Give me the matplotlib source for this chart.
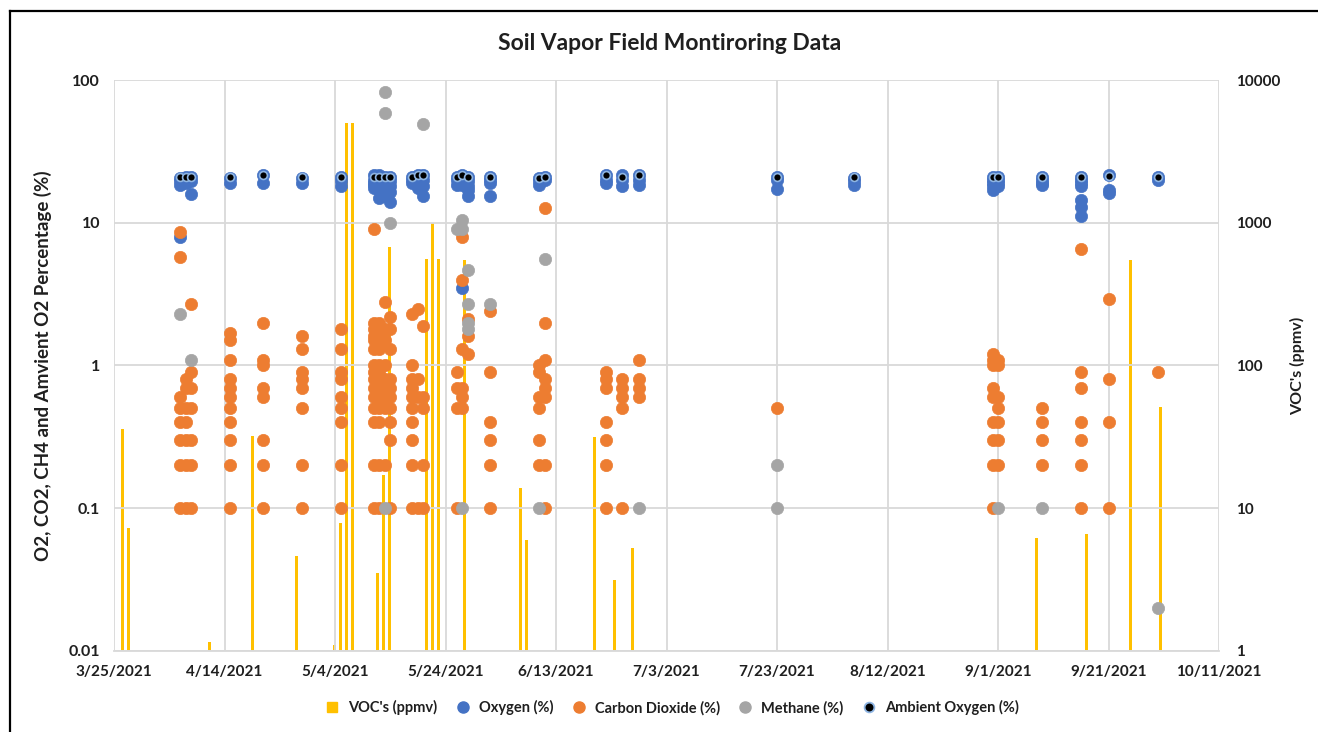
import matplotlib

matplotlib.use("Agg")
import matplotlib.pyplot as plt
import pandas as pd
from matplotlib.lines import Line2D

plt.rcParams["font.family"] = ["Lato", "DejaVu Sans"]

TITLE = "Soil Vapor Field Montiroring Data"
LEFT_LABEL = "O2, CO2, CH4 and Amvient O2 Percentage (%)"
RIGHT_LABEL = "VOC's (ppmv)"

x_ticks = ["2021-03-25", "2021-04-14", "2021-05-04", "2021-05-24", "2021-06-13", "2021-07-03",
           "2021-07-23", "2021-08-12", "2021-09-01", "2021-09-21", "2021-10-11"]
left_ticks = [0.01, 0.1, 1, 10, 100]
left_tick_labels = ["0.01", "0.1", "1", "10", "100"]
right_ticks = [1, 10, 100, 1000, 10000]
right_tick_labels = ["1", "10", "100", "1000", "10000"]

# VOC readings (ppmv), secondary axis
voc = [
    ("2021-03-26 12:00", 36), ("2021-03-27 14:00", 7.3), ("2021-04-11 08:00", 1.16),
    ("2021-04-19", 32), ("2021-04-27", 4.6), ("2021-05-03 22:00", 1.1), ("2021-05-05", 7.9),
    ("2021-05-06", 5000), ("2021-05-07 05:00", 5000), ("2021-05-11 17:00", 3.5),
    ("2021-05-12 19:00", 17), ("2021-05-13 22:00", 680), ("2021-05-20 14:00", 555),
    ("2021-05-21 14:00", 1000), ("2021-05-22 17:00", 560), ("2021-05-27 12:00", 548),
    ("2021-06-06 14:00", 13.9), ("2021-06-07 17:00", 6.0), ("2021-06-20", 31.6),
    ("2021-06-23 12:00", 3.15), ("2021-06-26 19:00", 5.3), ("2021-09-08", 6.2),
    ("2021-09-17", 6.6), ("2021-09-25", 548), ("2021-09-30 10:00", 51.5),
]

oxygen = [
    ("2021-04-06", 20.5), ("2021-04-06", 19.5), ("2021-04-06", 18.5), ("2021-04-06", 7.9),
    ("2021-04-07", 21), ("2021-04-07", 20), ("2021-04-07", 19),
    ("2021-04-08", 21), ("2021-04-08", 19.5), ("2021-04-08", 16),
    ("2021-04-15", 20.5), ("2021-04-15", 19),
    ("2021-04-21", 21.5), ("2021-04-21", 19),
    ("2021-04-28", 20.5), ("2021-04-28", 19),
    ("2021-05-05", 21), ("2021-05-05", 19.5), ("2021-05-05", 18),
    ("2021-05-11", 21.5), ("2021-05-11", 20), ("2021-05-11", 19), ("2021-05-11", 18.5), ("2021-05-11", 17.5),
    ("2021-05-12", 21.5), ("2021-05-12", 20), ("2021-05-12", 19), ("2021-05-12", 17), ("2021-05-12", 15),
    ("2021-05-13", 21), ("2021-05-13", 20), ("2021-05-13", 18.5), ("2021-05-13", 17.5), ("2021-05-13", 15.5),
    ("2021-05-14", 21), ("2021-05-14", 19.5), ("2021-05-14", 18), ("2021-05-14", 16.5), ("2021-05-14", 14),
    ("2021-05-18", 21), ("2021-05-18", 20), ("2021-05-18", 19),
    ("2021-05-19", 21.5), ("2021-05-19", 20), ("2021-05-19", 18.5), ("2021-05-19", 17.5),
    ("2021-05-20", 21.5), ("2021-05-20", 20), ("2021-05-20", 18), ("2021-05-20", 15.5),
    ("2021-05-26", 21), ("2021-05-26", 20), ("2021-05-26", 18.5),
    ("2021-05-27", 21.5), ("2021-05-27", 20), ("2021-05-27", 18.5), ("2021-05-27", 3.5),
    ("2021-05-28", 21), ("2021-05-28", 19.5), ("2021-05-28", 18), ("2021-05-28", 17), ("2021-05-28", 15.5),
    ("2021-06-01", 21), ("2021-06-01", 20), ("2021-06-01", 19), ("2021-06-01", 15.5),
    ("2021-06-10", 20.5), ("2021-06-10", 19.5), ("2021-06-10", 18.5),
    ("2021-06-11", 21), ("2021-06-11", 20),
    ("2021-06-22", 21.5), ("2021-06-22", 20), ("2021-06-22", 19),
    ("2021-06-25", 21.5), ("2021-06-25", 20), ("2021-06-25", 18),
    ("2021-06-28", 21.5), ("2021-06-28", 20), ("2021-06-28", 18.5),
    ("2021-07-23", 21), ("2021-07-23", 20), ("2021-07-23", 17.2),
    ("2021-08-06", 20.5), ("2021-08-06", 19.5), ("2021-08-06", 18.5),
    ("2021-08-31", 21), ("2021-08-31", 20), ("2021-08-31", 19), ("2021-08-31", 18), ("2021-08-31", 17),
    ("2021-09-01", 21), ("2021-09-01", 20), ("2021-09-01", 19), ("2021-09-01", 18),
    ("2021-09-09", 21), ("2021-09-09", 20), ("2021-09-09", 19), ("2021-09-09", 18.5),
    ("2021-09-16", 21), ("2021-09-16", 20), ("2021-09-16", 19), ("2021-09-16", 18),
    ("2021-09-16", 14.4), ("2021-09-16", 12.8), ("2021-09-16", 11.1),
    ("2021-09-21", 21.5), ("2021-09-21", 17), ("2021-09-21", 16.2),
    ("2021-09-30", 21), ("2021-09-30", 20),
]

carbon_dioxide = [
    ("2021-04-06", 8.6), ("2021-04-06", 5.8), ("2021-04-06", 0.6), ("2021-04-06", 0.5),
    ("2021-04-06", 0.4), ("2021-04-06", 0.3), ("2021-04-06", 0.2), ("2021-04-06", 0.1),
    ("2021-04-07", 0.8), ("2021-04-07", 0.7), ("2021-04-07", 0.5), ("2021-04-07", 0.4),
    ("2021-04-07", 0.3), ("2021-04-07", 0.2), ("2021-04-07", 0.1),
    ("2021-04-08", 2.7), ("2021-04-08", 0.9), ("2021-04-08", 0.7), ("2021-04-08", 0.5),
    ("2021-04-08", 0.3), ("2021-04-08", 0.2), ("2021-04-08", 0.1),
    ("2021-04-15", 1.7), ("2021-04-15", 1.5), ("2021-04-15", 1.1), ("2021-04-15", 0.8),
    ("2021-04-15", 0.7), ("2021-04-15", 0.6), ("2021-04-15", 0.5), ("2021-04-15", 0.4),
    ("2021-04-15", 0.3), ("2021-04-15", 0.2), ("2021-04-15", 0.1),
    ("2021-04-21", 2.0), ("2021-04-21", 1.1), ("2021-04-21", 1.0), ("2021-04-21", 0.7),
    ("2021-04-21", 0.6), ("2021-04-21", 0.3), ("2021-04-21", 0.2), ("2021-04-21", 0.1),
    ("2021-04-28", 1.6), ("2021-04-28", 1.3), ("2021-04-28", 0.9), ("2021-04-28", 0.8),
    ("2021-04-28", 0.7), ("2021-04-28", 0.5), ("2021-04-28", 0.2), ("2021-04-28", 0.1),
    ("2021-05-05", 1.8), ("2021-05-05", 1.3), ("2021-05-05", 0.9), ("2021-05-05", 0.8),
    ("2021-05-05", 0.6), ("2021-05-05", 0.5), ("2021-05-05", 0.4), ("2021-05-05", 0.2),
    ("2021-05-05", 0.1),
    ("2021-05-11", 9.0), ("2021-05-11", 2.0), ("2021-05-11", 1.8), ("2021-05-11", 1.6),
    ("2021-05-11", 1.5), ("2021-05-11", 1.3), ("2021-05-11", 1.0), ("2021-05-11", 0.9),
    ("2021-05-11", 0.8), ("2021-05-11", 0.7), ("2021-05-11", 0.6), ("2021-05-11", 0.5),
    ("2021-05-11", 0.4), ("2021-05-11", 0.2), ("2021-05-11", 0.1),
    ("2021-05-12", 2.0), ("2021-05-12", 1.6), ("2021-05-12", 1.4), ("2021-05-12", 1.3),
    ("2021-05-12", 1.0), ("2021-05-12", 0.9), ("2021-05-12", 0.8), ("2021-05-12", 0.7),
    ("2021-05-12", 0.6), ("2021-05-12", 0.5), ("2021-05-12", 0.4), ("2021-05-12", 0.2),
    ("2021-05-12", 0.1),
    ("2021-05-13", 2.8), ("2021-05-13", 1.8), ("2021-05-13", 1.5), ("2021-05-13", 1.0),
    ("2021-05-13", 0.8), ("2021-05-13", 0.7), ("2021-05-13", 0.6), ("2021-05-13", 0.5),
    ("2021-05-13", 0.2),
    ("2021-05-14", 2.2), ("2021-05-14", 1.8), ("2021-05-14", 1.3), ("2021-05-14", 0.8),
    ("2021-05-14", 0.7), ("2021-05-14", 0.6), ("2021-05-14", 0.5), ("2021-05-14", 0.4),
    ("2021-05-14", 0.3), ("2021-05-14", 0.1),
    ("2021-05-18", 2.3), ("2021-05-18", 1.0), ("2021-05-18", 0.8), ("2021-05-18", 0.7),
    ("2021-05-18", 0.6), ("2021-05-18", 0.5), ("2021-05-18", 0.4), ("2021-05-18", 0.3),
    ("2021-05-18", 0.2), ("2021-05-18", 0.1),
    ("2021-05-19", 2.5), ("2021-05-19", 0.8), ("2021-05-19", 0.6), ("2021-05-19", 0.1),
    ("2021-05-20", 1.9), ("2021-05-20", 0.6), ("2021-05-20", 0.5), ("2021-05-20", 0.2),
    ("2021-05-20", 0.1),
    ("2021-05-26", 0.9), ("2021-05-26", 0.7), ("2021-05-26", 0.5), ("2021-05-26", 0.1),
    ("2021-05-27", 8.0), ("2021-05-27", 4.0), ("2021-05-27", 1.3), ("2021-05-27", 0.7),
    ("2021-05-27", 0.6), ("2021-05-27", 0.5),
    ("2021-05-28", 2.1), ("2021-05-28", 1.6), ("2021-05-28", 1.2),
    ("2021-06-01", 2.4), ("2021-06-01", 0.9), ("2021-06-01", 0.4), ("2021-06-01", 0.3),
    ("2021-06-01", 0.2), ("2021-06-01", 0.1),
    ("2021-06-10", 1.0), ("2021-06-10", 0.9), ("2021-06-10", 0.6), ("2021-06-10", 0.5),
    ("2021-06-10", 0.3), ("2021-06-10", 0.2),
    ("2021-06-11", 12.7), ("2021-06-11", 2.0), ("2021-06-11", 1.1), ("2021-06-11", 0.8),
    ("2021-06-11", 0.7), ("2021-06-11", 0.6), ("2021-06-11", 0.2), ("2021-06-11", 0.1),
    ("2021-06-22", 0.9), ("2021-06-22", 0.8), ("2021-06-22", 0.7), ("2021-06-22", 0.4),
    ("2021-06-22", 0.3), ("2021-06-22", 0.2), ("2021-06-22", 0.1),
    ("2021-06-25", 0.8), ("2021-06-25", 0.7), ("2021-06-25", 0.6), ("2021-06-25", 0.5),
    ("2021-06-25", 0.1),
    ("2021-06-28", 1.1), ("2021-06-28", 0.8), ("2021-06-28", 0.7), ("2021-06-28", 0.6),
    ("2021-07-23", 0.5),
    ("2021-08-31", 1.2), ("2021-08-31", 1.1), ("2021-08-31", 1.0), ("2021-08-31", 0.7),
    ("2021-08-31", 0.6), ("2021-08-31", 0.4), ("2021-08-31", 0.3), ("2021-08-31", 0.2),
    ("2021-08-31", 0.1),
    ("2021-09-01", 1.1), ("2021-09-01", 1.0), ("2021-09-01", 0.6), ("2021-09-01", 0.5),
    ("2021-09-01", 0.4), ("2021-09-01", 0.3), ("2021-09-01", 0.2),
    ("2021-09-09", 0.5), ("2021-09-09", 0.4), ("2021-09-09", 0.3), ("2021-09-09", 0.2),
    ("2021-09-16", 6.6), ("2021-09-16", 0.9), ("2021-09-16", 0.7), ("2021-09-16", 0.4),
    ("2021-09-16", 0.3), ("2021-09-16", 0.2), ("2021-09-16", 0.1),
    ("2021-09-21", 2.9), ("2021-09-21", 0.8), ("2021-09-21", 0.4), ("2021-09-21", 0.1),
    ("2021-09-30", 0.9),
]

methane = [
    ("2021-04-06", 2.3), ("2021-04-08", 1.1),
    ("2021-05-13", 82), ("2021-05-13", 59), ("2021-05-13", 0.1), ("2021-05-14", 10),
    ("2021-05-20", 49),
    ("2021-05-26", 9), ("2021-05-27", 10.5), ("2021-05-27", 9), ("2021-05-27", 0.1),
    ("2021-05-28", 4.7), ("2021-05-28", 2.7), ("2021-05-28", 2.0), ("2021-05-28", 1.8),
    ("2021-06-01", 2.7), ("2021-06-10", 0.1), ("2021-06-11", 5.6), ("2021-06-28", 0.1),
    ("2021-07-23", 0.2), ("2021-07-23", 0.1), ("2021-09-01", 0.1), ("2021-09-09", 0.1),
    ("2021-09-30", 0.02),
]

ambient_oxygen = [
    ("2021-04-06", 20.9), ("2021-04-07", 20.9), ("2021-04-08", 20.9), ("2021-04-15", 20.9),
    ("2021-04-21", 21.5), ("2021-04-28", 20.9), ("2021-05-05", 20.9), ("2021-05-11", 20.9),
    ("2021-05-12", 20.9), ("2021-05-13", 20.9), ("2021-05-14", 20.9), ("2021-05-18", 20.9),
    ("2021-05-19", 21.5), ("2021-05-20", 21.5), ("2021-05-26", 20.9), ("2021-05-27", 21.5),
    ("2021-05-28", 20.9), ("2021-06-01", 20.9), ("2021-06-10", 20.5), ("2021-06-11", 20.9),
    ("2021-06-22", 21.5), ("2021-06-25", 20.9), ("2021-06-28", 21.5), ("2021-07-23", 20.9),
    ("2021-08-06", 20.9), ("2021-08-31", 20.9), ("2021-09-01", 20.9), ("2021-09-09", 20.9),
    ("2021-09-16", 20.9), ("2021-09-21", 21.3), ("2021-09-30", 20.9),
]

C_VOC = "#FFC000"
C_O2 = "#4472C4"
C_CO2 = "#ED7D31"
C_CH4 = "#A5A5A5"
C_GRID = "#D9D9D9"
C_TEXT = "#1F1F1F"


def split(pairs):
    d = pd.to_datetime([p[0] for p in pairs], format="ISO8601")
    v = [p[1] for p in pairs]
    return d, v


def main() -> None:
    fig = plt.figure(figsize=(13.18, 7.32), dpi=100)
    ax = fig.add_axes([0.0865, 0.1107, 0.8385, 0.78])
    ax2 = ax.twinx()
    # markers above the VOC bars
    ax.set_zorder(ax2.get_zorder() + 1)
    ax.patch.set_visible(False)

    vd, vv = split(voc)
    ax2.bar(vd, [v - 1 for v in vv], bottom=1, width=0.55, color=C_VOC, zorder=2)
    ax2.set_yscale("log")
    ax2.set_ylim(1, 10000)

    ms = 78
    for series, col in [(oxygen, C_O2), (carbon_dioxide, C_CO2), (methane, C_CH4)]:
        d, v = split(series)
        ax.scatter(d, v, s=ms, color=col, edgecolors=col, linewidths=0.5, zorder=3)
    d, v = split(ambient_oxygen)
    ax.scatter(d, v, s=32, color="black", edgecolors="#8DB4E2", linewidths=1.2, zorder=4)

    ax.set_yscale("log")
    ax.set_ylim(0.01, 100)
    xt = pd.to_datetime(x_ticks)
    ax.set_xlim(xt[0], xt[-1])
    ax.set_xticks(xt)
    ax.set_xticklabels([f"{t.month}/{t.day}/{t.year}" for t in xt])
    ax.set_yticks(left_ticks)
    ax.set_yticklabels(left_tick_labels)
    ax.yaxis.set_minor_locator(matplotlib.ticker.NullLocator())
    ax2.set_yticks(right_ticks)
    ax2.set_yticklabels(right_tick_labels)
    ax2.yaxis.set_minor_locator(matplotlib.ticker.NullLocator())

    ax.grid(True, which="major", color=C_GRID, linewidth=1.3, zorder=1)
    ax.set_axisbelow(True)
    for a in (ax, ax2):
        for sp in a.spines.values():
            sp.set_visible(False)
    ax.spines["bottom"].set_visible(True)
    ax.spines["bottom"].set_color(C_GRID)
    ax.spines["bottom"].set_linewidth(1.3)

    ax.tick_params(axis="x", length=0, labelsize=11, labelcolor=C_TEXT, pad=10)
    ax.tick_params(axis="y", length=0, labelsize=11.5, labelcolor=C_TEXT, pad=10)
    ax2.tick_params(axis="y", length=0, labelsize=11, labelcolor=C_TEXT, pad=12)
    for lab in ax.get_xticklabels() + ax.get_yticklabels() + ax2.get_yticklabels():
        lab.set_fontweight("bold")

    ax.set_ylabel(LEFT_LABEL, fontsize=13.5, fontweight="bold", color=C_TEXT, labelpad=12)
    ax2.set_ylabel(RIGHT_LABEL, fontsize=11.5, fontweight="bold", color=C_TEXT, labelpad=7)
    fig.text(0.508, 0.941, TITLE, ha="center", va="center", fontsize=16.5, fontweight="bold", color=C_TEXT)

    handles = [
        Line2D([], [], marker="s", linestyle="", color=C_VOC, markersize=7),
        Line2D([], [], marker="o", linestyle="", color=C_O2, markersize=8),
        Line2D([], [], marker="o", linestyle="", color=C_CO2, markersize=8),
        Line2D([], [], marker="o", linestyle="", color=C_CH4, markersize=8),
        Line2D([], [], marker="o", linestyle="", markerfacecolor="black",
               markeredgecolor="#8DB4E2", markeredgewidth=1.3, markersize=7),
    ]
    labels = ["VOC's (ppmv)", "Oxygen (%)", "Carbon Dioxide (%)", "Methane (%)", "Ambient Oxygen (%)"]
    leg = fig.legend(handles, labels, loc="center", bbox_to_anchor=(0.507, 0.033), ncol=5,
                     frameon=False, fontsize=10.5, handletextpad=0.1, columnspacing=0.75)
    for t in leg.get_texts():
        t.set_fontweight("bold")
        t.set_color(C_TEXT)

    # chart border (left and top edges visible)
    fig.add_artist(Line2D([0.0076, 0.0076], [0.0, 0.985], color="black", linewidth=1.6,
                          transform=fig.transFigure))
    fig.add_artist(Line2D([0.0076, 1.0], [0.985, 0.985], color="black", linewidth=1.6,
                          transform=fig.transFigure))

    fig.savefig("out.png", dpi=100)
    plt.close(fig)


if __name__ == "__main__":
    main()
